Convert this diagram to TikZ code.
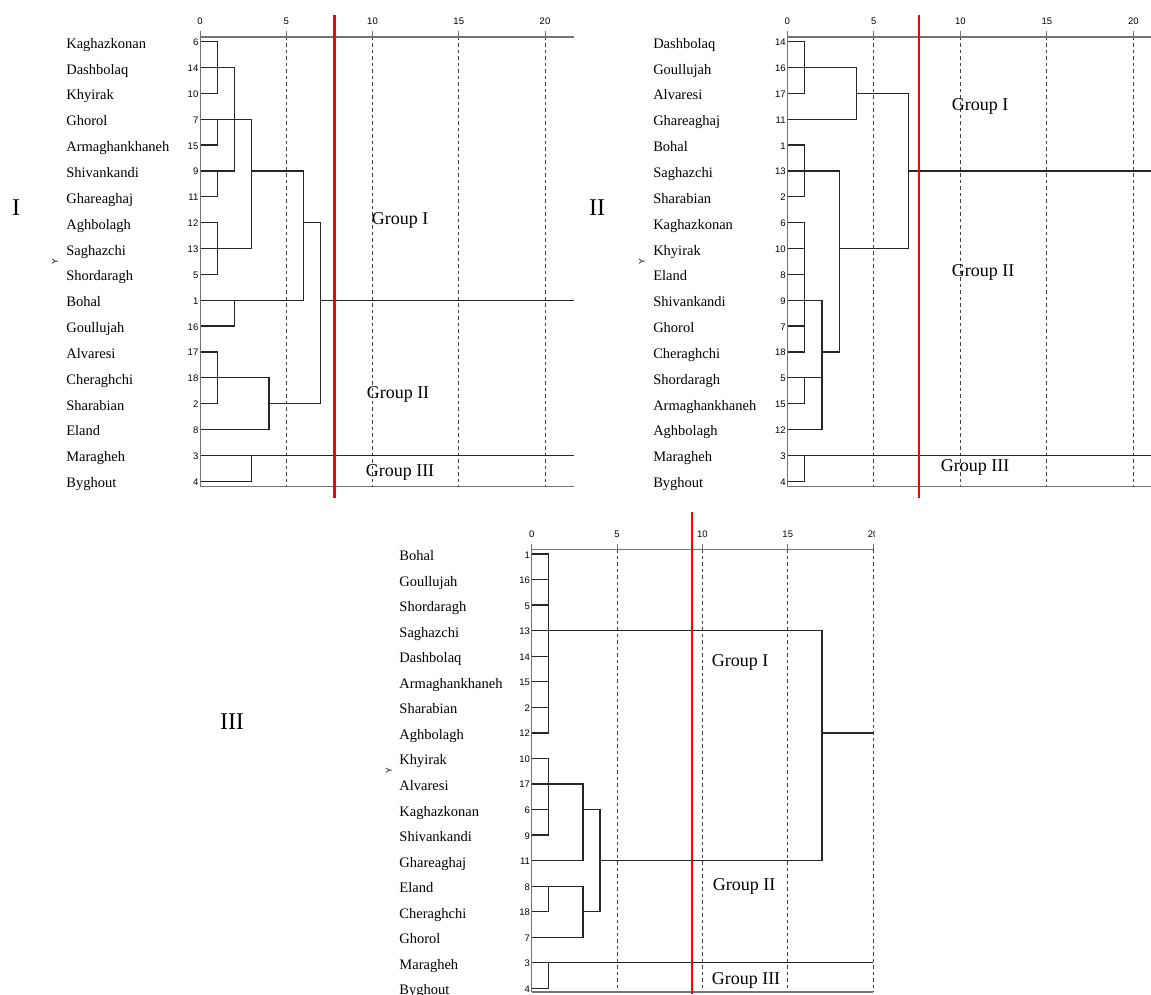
\documentclass[tikz,border=0pt]{standalone}
\usepackage{fontspec}
\setmainfont{Liberation Serif}
\setsansfont{Liberation Sans}

\begin{document}
\begin{tikzpicture}
		[x=1pt, y=-1pt,
		% STYLES
		% leafName is the site name printed left of each dendrogram
		leafName/.style={anchor=base west, inner sep=0pt, yshift=-6.5pt, font=\fontsize{14.5}{16}\selectfont},
		% leafNum is the case number next to the axis
		leafNum/.style={anchor=base east, inner sep=0pt, xshift=-1.5pt, yshift=-4pt, font=\sffamily\fontsize{9.5}{11}\selectfont},
		% numbers of the distance scale
		tickNum/.style={inner sep=0pt, font=\sffamily\fontsize{9.5}{11}\selectfont},
		% group names and panel numbers
		groupLabel/.style={inner sep=0pt, font=\fontsize{18}{20}\selectfont},
		panelLabel/.style={inner sep=0pt, font=\fontsize{24}{26}\selectfont},
		yLabel/.style={inner sep=0pt, rotate=90, font=\sffamily\fontsize{8.5}{10}\selectfont},
		% lines
		link/.style={draw=black!85, line width=1.3pt},
		axisLine/.style={draw=black!55, line width=1.8pt},
		leftAxis/.style={draw=black!55, line width=1pt},
		gridLine/.style={draw=black!75, line width=1pt, dash pattern=on 3.5pt off 3pt},
		cutLine/.style={draw=red, line width=2.4pt}]

		\useasboundingbox (0,0) rectangle (1151,994);

		%%%%%%%%%%%%%%%
		% Dendrogram I
		\begin{scope}[shift={(200,41.7)}, x=17.25pt, y=-25.85pt]
			\foreach \site/\num [count=\k from 0] in {Kaghazkonan/6, Dashbolaq/14, Khyirak/10, Ghorol/7,
				Armaghankhaneh/15, Shivankandi/9, Ghareaghaj/11, Aghbolagh/12, Saghazchi/13, Shordaragh/5,
				Bohal/1, Goullujah/16, Alvaresi/17, Cheraghchi/18, Sharabian/2, Eland/8, Maragheh/3, Byghout/4}
			{
				\coordinate (I-\num) at (0,\k);
				\node [leafName] (I-site\num) at (-7.76,\k) {\site};
				\node [leafNum] (I-num\num) at (0,\k) {\num};
			}
			% scale
			\foreach \t in {5,10,15,20}
				\draw [gridLine] (\t,-0.19) -- (\t,17.21);
			\foreach \t in {0,5,10,15,20}
			{
				\draw [leftAxis] (\t,-0.19) -- (\t,-0.4);
				\node [tickNum] (I-tick\t) at (\t,-0.8) {\t};
			}
			% links
			\draw [link] (I-6) -| (1,2) -- (I-10);
			\draw [link] (I-14) -| (2,5) -- (I-9);
			\draw [link] (I-7) -| (1,4) -- (I-15);
			\draw [link] (I-9) -| (1,6) -- (I-11);
			\draw [link] (I-7) -| (3,8) -- (I-13);
			\draw [link] (I-12) -| (1,9) -- (I-5);
			\draw [link] (3,5) -| (6,10) -- (I-1);
			\draw [link] (6,7) -| (7,14) -- (4,14);
			\draw [link] (I-1) -| (2,11) -- (I-16);
			\draw [link] (I-17) -| (1,14) -- (I-2);
			\draw [link] (I-18) -| (4,15) -- (I-8);
			\draw [link] (7,10) -- (21.7,10);
			\draw [link] (I-3) -- (21.7,16);
			\draw [link] (I-4) -| (3,16);
			% axes and cut
			\draw [axisLine] (0,-0.19) -- (21.7,-0.19);
			\draw [axisLine] (0,17.21) -- (21.7,17.21);
			\draw [leftAxis] (0,-0.19) -- (0,17.21);
			\draw [cutLine] (7.79,-1.03) -- (7.79,17.65);
		\end{scope}

		%%%%%%%%%%%%%%%
		% Dendrogram II
		\begin{scope}[shift={(787.3,41.7)}, x=17.3pt, y=-25.85pt]
			\foreach \site/\num [count=\k from 0] in {Dashbolaq/14, Goullujah/16, Alvaresi/17, Ghareaghaj/11,
				Bohal/1, Saghazchi/13, Sharabian/2, Kaghazkonan/6, Khyirak/10, Eland/8, Shivankandi/9, Ghorol/7,
				Cheraghchi/18, Shordaragh/5, Armaghankhaneh/15, Aghbolagh/12, Maragheh/3, Byghout/4}
			{
				\coordinate (II-\num) at (0,\k);
				\node [leafName] (II-site\num) at (-7.76,\k) {\site};
				\node [leafNum] (II-num\num) at (0,\k) {\num};
			}
			% scale
			\foreach \t in {5,10,15,20}
				\draw [gridLine] (\t,-0.19) -- (\t,17.21);
			\foreach \t in {0,5,10,15,20}
			{
				\draw [leftAxis] (\t,-0.19) -- (\t,-0.4);
				\node [tickNum] (II-tick\t) at (\t,-0.8) {\t};
			}
			% links
			\draw [link] (II-14) -| (1,2) -- (II-17);
			\draw [link] (II-16) -| (4,3) -- (II-11);
			\draw [link] (4,2) -| (7,8) -- (3,8);
			\draw [link] (7,5) -- (21.02,5);
			\draw [link] (II-1) -| (1,6) -- (II-2);
			\draw [link] (II-13) -| (3,12) -- (2,12);
			\draw [link] (II-6) -| (1,12) -- (II-18);
			\draw [link] (II-10) -- ++(1,0);
			\draw [link] (II-8) -- ++(1,0);
			\draw [link] (II-7) -- ++(1,0);
			\draw [link] (II-9) -| (2,15) -- (II-12);
			\draw [link] (II-5) -| (1,14) -- (II-15);
			\draw [link] (II-5) -- ++(2,0);
			\draw [link] (II-3) -- (21.02,16);
			\draw [link] (II-4) -| (1,16);
			% axes and cut
			\draw [axisLine] (0,-0.19) -- (21.02,-0.19);
			\draw [axisLine] (0,17.21) -- (21.02,17.21);
			\draw [leftAxis] (0,-0.19) -- (0,17.21);
			\draw [cutLine] (7.61,-1.03) -- (7.61,17.65);
		\end{scope}

		%%%%%%%%%%%%%%%
		% Dendrogram III
		\begin{scope}[shift={(531.7,554)}, x=17.07pt, y=-25.55pt]
			\foreach \site/\num [count=\k from 0] in {Bohal/1, Goullujah/16, Shordaragh/5, Saghazchi/13,
				Dashbolaq/14, Armaghankhaneh/15, Sharabian/2, Aghbolagh/12, Khyirak/10, Alvaresi/17,
				Kaghazkonan/6, Shivankandi/9, Ghareaghaj/11, Eland/8, Cheraghchi/18, Ghorol/7, Maragheh/3, Byghout/4}
			{
				\coordinate (III-\num) at (0,\k);
				\node [leafName] (III-site\num) at (-7.76,\k) {\site};
				\node [leafNum] (III-num\num) at (0,\k) {\num};
			}
			% scale
			\foreach \t in {5,10,15,20}
				\draw [gridLine] (\t,-0.18) -- (\t,17.14);
			\begin{scope}
				\clip (-1,-1.5) rectangle (20.1,0);
				\foreach \t in {0,5,10,15,20}
				{
					\draw [leftAxis] (\t,-0.18) -- (\t,-0.39);
					\node [tickNum] (III-tick\t) at (\t,-0.79) {\t};
				}
			\end{scope}
			% links
			\draw [link] (III-1) -| (1,7) -- (III-12);
			\foreach \n in {16,5,14,15,2}
				\draw [link] (III-\n) -- ++(1,0);
			\draw [link] (III-13) -| (17,12) -- (4,12);
			\draw [link] (17,7) -- (20,7);
			\draw [link] (III-10) -| (1,11) -- (III-9);
			\draw [link] (III-6) -- ++(1,0);
			\draw [link] (III-17) -| (3,12) -- (III-11);
			\draw [link] (3,10) -| (4,14) -- (3,14);
			\draw [link] (III-8) -| (3,15) -- (III-7);
			\draw [link] (III-8) -| (1,14) -- (III-18);
			\draw [link] (III-3) -- (20,16);
			\draw [link] (III-4) -| (1,16);
			% axes and cut
			\draw [axisLine] (0,-0.18) -- (20,-0.18);
			\draw [axisLine] (0,17.14) -- (20,17.14);
			\draw [leftAxis] (0,-0.18) -- (0,17.14);
			\draw [cutLine] (9.39,-1.64) -- (9.39,17.22);
		\end{scope}

		%%%%%%%%%%%%%%%
		% Groups and panel names
		\node [groupLabel] (I-g1) at (400,220) {Group I};
		\node [groupLabel] (I-g2) at (398,394) {Group II};
		\node [groupLabel] (I-g3) at (400,472) {Group III};
		\node [groupLabel] (II-g1) at (980,106) {Group I};
		\node [groupLabel] (II-g2) at (983,272) {Group II};
		\node [groupLabel] (II-g3) at (975,467) {Group III};
		\node [groupLabel] (III-g1) at (740,662) {Group I};
		\node [groupLabel] (III-g2) at (744,886) {Group II};
		\node [groupLabel] (III-g3) at (746,980) {Group III};

		\node [panelLabel] (I-title) at (16,208) {I};
		\node [panelLabel] (II-title) at (597,208) {II};
		\node [panelLabel] (III-title) at (232,722) {III};

		\node [yLabel] (I-y) at (55,262) {Y};
		\node [yLabel] (II-y) at (642,262) {Y};
		\node [yLabel] (III-y) at (389,771) {Y};
\end{tikzpicture}
\end{document}
